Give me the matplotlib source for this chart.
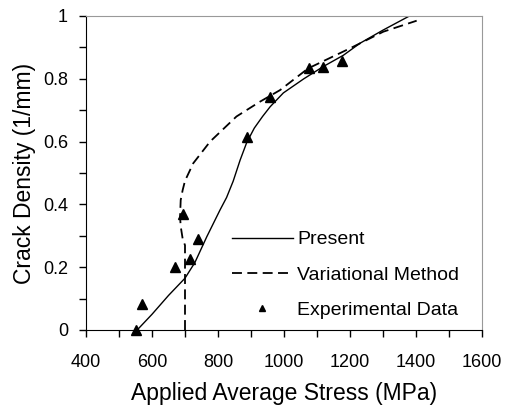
import matplotlib
matplotlib.use('Agg')
import matplotlib.pyplot as plt
from matplotlib.ticker import MultipleLocator

# Present model
present_x = [555, 600, 650, 700, 730, 766, 806, 826, 846, 867, 887, 910, 935, 958, 998, 1060, 1119, 1180, 1230, 1300, 1380]
present_y = [0.0, 0.05, 0.11, 0.165, 0.215, 0.297, 0.382, 0.422, 0.474, 0.541, 0.597, 0.643, 0.68, 0.711, 0.755, 0.80, 0.839, 0.875, 0.913, 0.955, 1.0]

# Variational method
var_x = [700, 700, 693, 687, 685, 687, 693, 700, 725, 776, 856, 927, 988, 1073, 1200, 1301, 1402]
var_y = [0.0, 0.27, 0.29, 0.33, 0.361, 0.414, 0.446, 0.475, 0.531, 0.60, 0.68, 0.727, 0.764, 0.833, 0.897, 0.95, 0.985]

# Experimental data
exp_x = [552, 569, 670, 693, 715, 738, 887, 958, 1077, 1119, 1175]
exp_y = [0.0, 0.082, 0.20, 0.37, 0.225, 0.29, 0.616, 0.741, 0.835, 0.839, 0.857]

plt.rcParams['font.family'] = ['Liberation Sans', 'DejaVu Sans']

fig = plt.figure(figsize=(5.09, 4.16), dpi=100)
ax = fig.add_axes([86/509, 1 - 330/416, 396/509, 314/416])

ax.plot(present_x, present_y, color='black', lw=1.0, label='Present')
ax.plot(var_x, var_y, color='black', lw=1.3, linestyle=(0, (5.5, 3)), label='Variational Method')
ax.plot(exp_x, exp_y, linestyle='none', marker='^', color='black', markersize=6.5,
        label='Experimental Data', clip_on=False)

ax.set_xlim(400, 1600)
ax.set_ylim(0, 1)
ax.xaxis.set_major_locator(MultipleLocator(200))
ax.xaxis.set_minor_locator(MultipleLocator(100))
ax.yaxis.set_major_locator(MultipleLocator(0.2))
ax.yaxis.set_minor_locator(MultipleLocator(0.1))


def ylab(v, pos):
    v = round(v, 2)
    if v in (0, 1):
        return str(int(v))
    return f'{v:.1f}'


ax.yaxis.set_major_formatter(plt.FuncFormatter(ylab))

ax.tick_params(which='both', direction='out', length=5, width=1, labelsize=13, top=False, right=False)
ax.tick_params(axis='x', pad=12)
ax.tick_params(axis='y', pad=8)

for s in ['top', 'right']:
    ax.spines[s].set_color('#999999')
for s in ['left', 'bottom']:
    ax.spines[s].set_color('black')

ax.set_xlabel('Applied Average Stress (MPa)', fontsize=16.5, labelpad=8)
ax.set_ylabel('Crack Density (1/mm)', fontsize=16.5, labelpad=5)

ax.legend(loc='lower left', bbox_to_anchor=(0.345, 0.005), frameon=False, fontsize=14,
          handlelength=3.1, handletextpad=0.25, labelspacing=0.9, markerscale=0.6, borderpad=0)

fig.savefig('out.png', dpi=100)
